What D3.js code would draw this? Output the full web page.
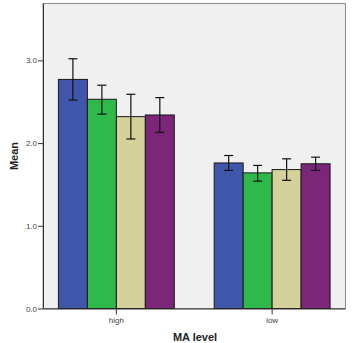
<!DOCTYPE html>
<html><head><meta charset="utf-8">
<script src="https://cdn.jsdelivr.net/npm/d3@7"></script>
<style>body{margin:0;background:#fff;}</style>
</head><body><svg id="c" width="354" height="343"></svg>
<script>
const categories = ["high", "low"];
const seriesNames = ["s1", "s2", "s3", "s4"];
const means = [[2.77, 2.53, 2.32, 2.34], [1.76, 1.64, 1.68, 1.75]];
const errLow = [[2.52, 2.35, 2.05, 2.13], [1.67, 1.54, 1.55, 1.67]];
const errHigh = [[3.02, 2.70, 2.59, 2.55], [1.85, 1.73, 1.81, 1.83]];
const yTicks = [0, 1, 2, 3];
const colors = ["#3F56AA", "#2EB94A", "#D5D19A", "#7B2679"];

const svg = d3.select("#c");
const L = 43, R = 345.5, T = 3.5, B = 308.5;
const x = d3.scaleBand().domain(categories).range([L, R]).paddingInner(0.256).paddingOuter(0.099);
const xs = d3.scaleBand().domain(seriesNames).range([0, x.bandwidth()]);
const y = d3.scaleLinear().domain([0, 3.7]).range([B, B - 3.7 * 82.7]);

svg.append("rect").attr("x", L).attr("y", T).attr("width", R - L).attr("height", B - T)
  .attr("fill", "#F0F0F0").attr("stroke", "#8a8a8a").attr("stroke-width", 1);

const g = svg.append("g");
categories.forEach((c, ci) => {
  seriesNames.forEach((s, si) => {
    const bx = x(c) + xs(s);
    g.append("rect").attr("x", bx).attr("y", y(means[ci][si]))
      .attr("width", xs.bandwidth()).attr("height", y(0) - y(means[ci][si]))
      .attr("fill", colors[si]).attr("stroke", "#1a1a1a").attr("stroke-width", 1);
  });
});
categories.forEach((c, ci) => {
  seriesNames.forEach((s, si) => {
    const cx = x(c) + xs(s) + xs.bandwidth() / 2;
    const e = g.append("g").attr("stroke", "#111").attr("stroke-width", 1.2);
    e.append("line").attr("x1", cx).attr("x2", cx).attr("y1", y(errLow[ci][si])).attr("y2", y(errHigh[ci][si]));
    [errLow[ci][si], errHigh[ci][si]].forEach(v => {
      e.append("line").attr("x1", cx - 4.5).attr("x2", cx + 4.5).attr("y1", y(v)).attr("y2", y(v));
    });
  });
});

const yAxis = svg.append("g").attr("transform", `translate(${L},0)`)
  .call(d3.axisLeft(y).tickValues(yTicks).tickFormat(d3.format(".1f")).tickSize(5).tickSizeOuter(0));
yAxis.select(".domain").attr("d", `M0.5,${T}V${B}`).attr("stroke", "#333");
yAxis.selectAll(".tick line").attr("stroke", "#333");
yAxis.selectAll("text").attr("font-family", "Arial, Liberation Sans, sans-serif").attr("font-size", 8).attr("fill", "#444").attr("x", -6);

const xAxis = svg.append("g").attr("transform", `translate(0,${B})`)
  .call(d3.axisBottom(x).tickSize(6).tickSizeOuter(0));
xAxis.select(".domain").attr("d", `M${L},0.5H${R}`).attr("stroke", "#333");
xAxis.selectAll(".tick line").attr("stroke", "#333");
xAxis.selectAll("text").attr("font-family", "Arial, Liberation Sans, sans-serif").attr("font-size", 8).attr("fill", "#444").attr("y", 9);

svg.append("text").attr("x", 195).attr("y", 341).attr("text-anchor", "middle")
  .attr("font-family", "Arial, Liberation Sans, sans-serif").attr("font-weight", "bold").attr("font-size", 11).attr("fill", "#222").text("MA level");
svg.append("text").attr("transform", "translate(18,156) rotate(-90)").attr("text-anchor", "middle")
  .attr("font-family", "Arial, Liberation Sans, sans-serif").attr("font-weight", "bold").attr("font-size", 11).attr("fill", "#222").text("Mean");
</script></body></html>
